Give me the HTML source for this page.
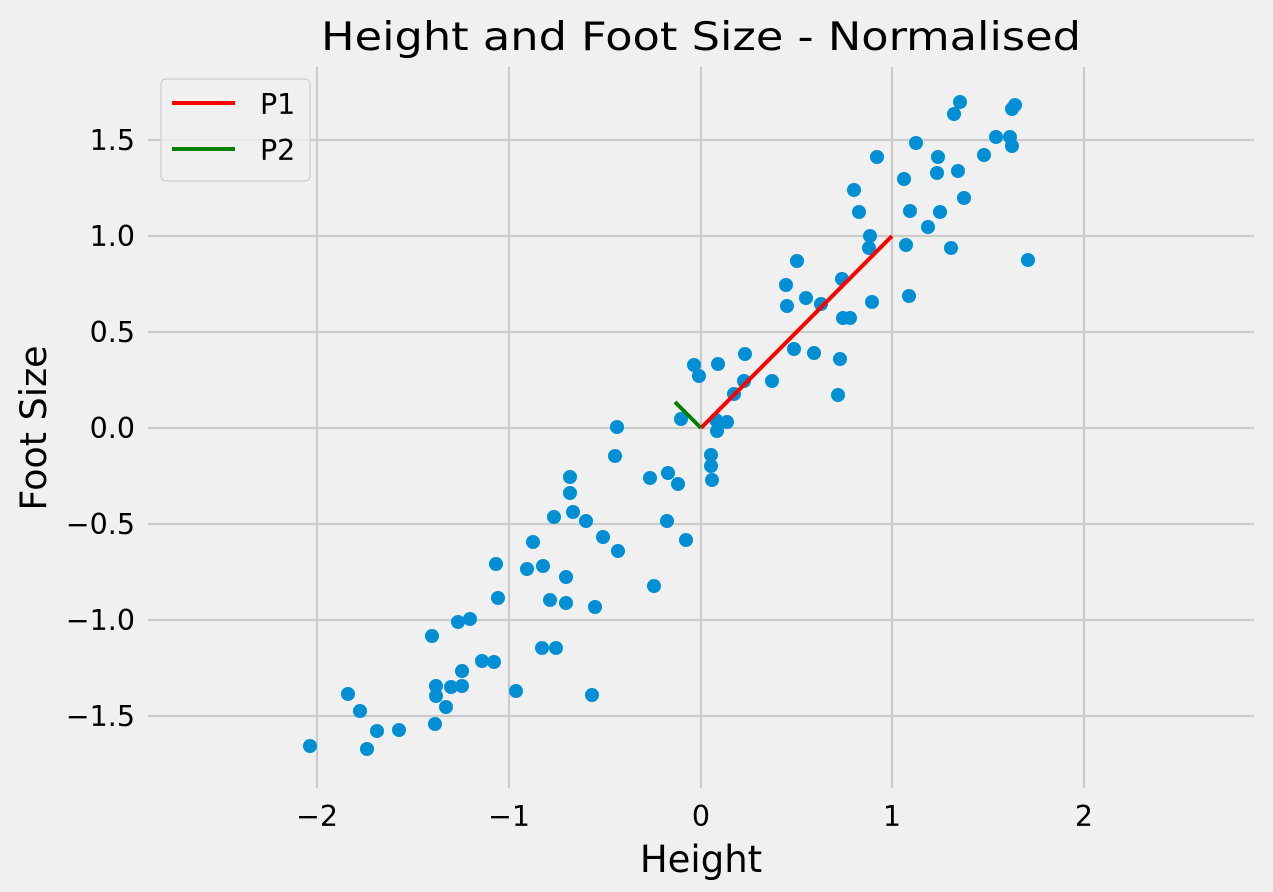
<!DOCTYPE html>
<html><head><meta charset="utf-8"><style>body{margin:0;background:#f0f0f0}svg{display:block}text{font-family:"DejaVu Sans","Liberation Sans",sans-serif;fill:#000}</style></head><body>
<svg width="1273" height="892" viewBox="0 0 1273 892">
<rect width="1273" height="892" fill="#f0f0f0"/>
<g stroke="#cbcbcb" stroke-width="2.2">
<line x1="317" y1="67" x2="317" y2="788"/><line x1="509" y1="67" x2="509" y2="788"/><line x1="701" y1="67" x2="701" y2="788"/><line x1="892" y1="67" x2="892" y2="788"/><line x1="1084" y1="67" x2="1084" y2="788"/>
<line x1="148" y1="140" x2="1254" y2="140"/><line x1="148" y1="236" x2="1254" y2="236"/><line x1="148" y1="332" x2="1254" y2="332"/><line x1="148" y1="428" x2="1254" y2="428"/><line x1="148" y1="524" x2="1254" y2="524"/><line x1="148" y1="620" x2="1254" y2="620"/><line x1="148" y1="716" x2="1254" y2="716"/>
</g>
<g font-size="28.5" text-anchor="end">
<text x="135" y="150">1.5</text><text x="135" y="246">1.0</text><text x="135" y="342">0.5</text><text x="135" y="438">0.0</text><text x="135" y="534">−0.5</text><text x="135" y="630">−1.0</text><text x="135" y="726">−1.5</text>
</g>
<g font-size="28.5" text-anchor="middle">
<text x="317" y="826">−2</text><text x="509" y="826">−1</text><text x="701" y="826">0</text><text x="892" y="826">1</text><text x="1084" y="826">2</text>
</g>
<text x="701" y="50" font-size="39" text-anchor="middle" textLength="760" lengthAdjust="spacingAndGlyphs">Height and Foot Size - Normalised</text>
<text x="701" y="872" font-size="37" text-anchor="middle">Height</text>
<text transform="translate(46,428) rotate(-90)" font-size="36.5" text-anchor="middle">Foot Size</text>
<g fill="#008fd5">
<circle cx="310" cy="746" r="7"/><circle cx="348" cy="694" r="7"/><circle cx="360" cy="711" r="7"/><circle cx="367" cy="749" r="7"/><circle cx="377" cy="731" r="7"/><circle cx="399" cy="730" r="7"/><circle cx="432" cy="636" r="7"/><circle cx="436" cy="686" r="7"/><circle cx="436" cy="696" r="7"/><circle cx="435" cy="724" r="7"/><circle cx="446" cy="707" r="7"/><circle cx="451" cy="687" r="7"/><circle cx="458" cy="622" r="7"/><circle cx="462" cy="686" r="7"/><circle cx="462" cy="671" r="7"/><circle cx="470" cy="619" r="7"/><circle cx="482" cy="661" r="7"/><circle cx="494" cy="662" r="7"/><circle cx="496" cy="564" r="7"/><circle cx="498" cy="598" r="7"/><circle cx="516" cy="691" r="7"/><circle cx="527" cy="569" r="7"/><circle cx="533" cy="542" r="7"/><circle cx="543" cy="566" r="7"/><circle cx="542" cy="648" r="7"/><circle cx="550" cy="600" r="7"/><circle cx="554" cy="517" r="7"/><circle cx="556" cy="648" r="7"/><circle cx="566" cy="577" r="7"/><circle cx="566" cy="603" r="7"/><circle cx="570" cy="477" r="7"/><circle cx="570" cy="493" r="7"/><circle cx="573" cy="512" r="7"/><circle cx="586" cy="521" r="7"/><circle cx="592" cy="695" r="7"/><circle cx="595" cy="607" r="7"/><circle cx="603" cy="537" r="7"/><circle cx="615" cy="456" r="7"/><circle cx="617" cy="427" r="7"/><circle cx="618" cy="551" r="7"/><circle cx="650" cy="478" r="7"/><circle cx="654" cy="586" r="7"/><circle cx="668" cy="473" r="7"/><circle cx="667" cy="521" r="7"/><circle cx="678" cy="484" r="7"/><circle cx="681" cy="419" r="7"/><circle cx="686" cy="540" r="7"/><circle cx="694" cy="365" r="7"/><circle cx="699" cy="376" r="7"/><circle cx="711" cy="455" r="7"/><circle cx="711" cy="466" r="7"/><circle cx="712" cy="480" r="7"/><circle cx="716" cy="420" r="7"/><circle cx="717" cy="431" r="7"/><circle cx="718" cy="364" r="7"/><circle cx="727" cy="422" r="7"/><circle cx="734" cy="394" r="7"/><circle cx="744" cy="381" r="7"/><circle cx="745" cy="354" r="7"/><circle cx="772" cy="381" r="7"/><circle cx="786" cy="285" r="7"/><circle cx="787" cy="306" r="7"/><circle cx="794" cy="349" r="7"/><circle cx="797" cy="261" r="7"/><circle cx="806" cy="298" r="7"/><circle cx="814" cy="353" r="7"/><circle cx="821" cy="304" r="7"/><circle cx="838" cy="395" r="7"/><circle cx="840" cy="359" r="7"/><circle cx="842" cy="279" r="7"/><circle cx="843" cy="318" r="7"/><circle cx="850" cy="318" r="7"/><circle cx="854" cy="190" r="7"/><circle cx="859" cy="212" r="7"/><circle cx="870" cy="236" r="7"/><circle cx="869" cy="248" r="7"/><circle cx="872" cy="302" r="7"/><circle cx="877" cy="157" r="7"/><circle cx="904" cy="179" r="7"/><circle cx="906" cy="245" r="7"/><circle cx="909" cy="296" r="7"/><circle cx="910" cy="211" r="7"/><circle cx="916" cy="143" r="7"/><circle cx="928" cy="227" r="7"/><circle cx="938" cy="157" r="7"/><circle cx="940" cy="212" r="7"/><circle cx="937" cy="173" r="7"/><circle cx="951" cy="248" r="7"/><circle cx="954" cy="114" r="7"/><circle cx="960" cy="102" r="7"/><circle cx="964" cy="198" r="7"/><circle cx="958" cy="171" r="7"/><circle cx="984" cy="155" r="7"/><circle cx="996" cy="137" r="7"/><circle cx="1010" cy="137" r="7"/><circle cx="1012" cy="146" r="7"/><circle cx="1012" cy="109" r="7"/><circle cx="1015" cy="105" r="7"/><circle cx="1028" cy="260" r="7"/>
</g>
<line x1="701" y1="428" x2="892" y2="236" stroke="#ff0000" stroke-width="4"/>
<line x1="701" y1="428" x2="675" y2="402" stroke="#008000" stroke-width="4"/>
<rect x="161" y="79" width="149" height="102" rx="5" fill="#f0f0f0" fill-opacity="0.8" stroke="#cccccc" stroke-width="1.2"/>
<line x1="172" y1="103" x2="235" y2="103" stroke="#ff0000" stroke-width="4"/>
<line x1="172" y1="149" x2="235" y2="149" stroke="#008000" stroke-width="4"/>
<text x="260" y="114" font-size="28.5">P1</text>
<text x="260" y="160" font-size="28.5">P2</text>
</svg>
</body></html>
